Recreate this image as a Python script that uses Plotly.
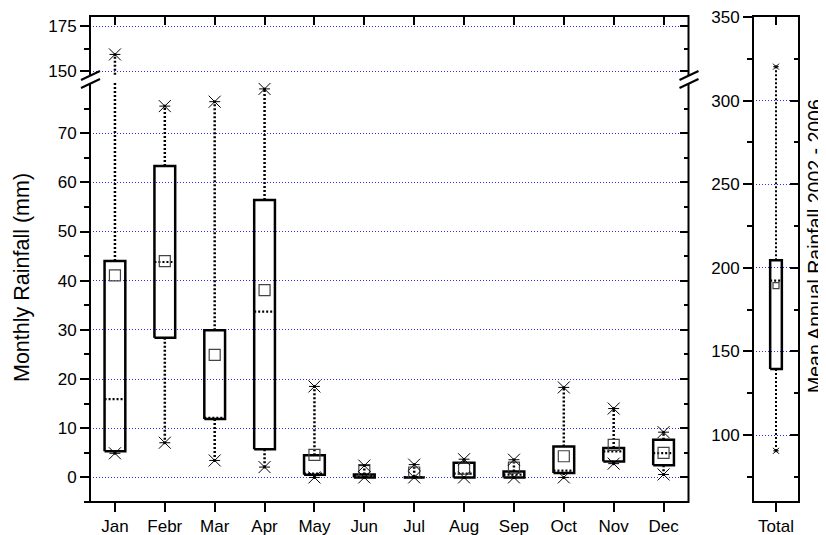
import plotly.graph_objects as go

# ---------------- data ----------------
months = ['Jan', 'Febr', 'Mar', 'Apr', 'May', 'Jun', 'Jul', 'Aug', 'Sep', 'Oct', 'Nov', 'Dec']
q1 = [5.3, 28.4, 11.9, 5.75, 0.55, 0.0, 0.0, 0.0, 0.0, 0.9, 3.25, 2.45]
q3 = [44.0, 63.3, 29.9, 56.4, 4.5, 0.6, 0.15, 3.0, 1.2, 6.3, 6.0, 7.65]
median = [15.9, 43.8, 12.1, 33.7, 0.8, 0.3, 0.05, 0.75, 0.55, 1.4, 5.3, 4.95]
mean = [41.1, 44.0, 24.9, 38.1, 4.6, 1.5, 1.0, 1.8, 2.0, 4.3, 6.6, 5.0]
vmin = [4.9, 7.05, 3.45, 2.1, 0.0, 0.0, 0.0, 0.0, 0.0, 0.0, 2.8, 0.6]
vmax = [159.4, 75.5, 76.4, 79.0, 18.5, 2.4, 2.6, 3.7, 3.6, 18.3, 14.0, 9.2]

total_label = ['Total']
total_q1 = [139.6]
total_q3 = [204.6]
total_median = [192.4]
total_mean = [189.4]
total_min = [90.6]
total_max = [320.3]

lower_ticks = [0, 10, 20, 30, 40, 50, 60, 70]
upper_ticks = [150, 175]
total_ticks = [100, 150, 200, 250, 300, 350]

# ---------------- layout helpers ----------------
OFF = 8                      # page body margin in the browser
W, H = 826 - OFF, 535 - OFF  # figure size
TOP, BOT = 16 - OFF, 502 - OFF
PH = BOT - TOP
FONT = 'Liberation Sans, Arial, sans-serif'


def px(x):
    """window pixel x -> paper fraction"""
    return (x - OFF) / W


def py(y):
    """window pixel y -> paper fraction"""
    return (BOT - (y - OFF)) / PH


def box_traces(pos, lo, hi, med, mn, vlo, vhi, w, xa, ya, msize, asize, wwidth):
    wx, wy, bx, by, mx, my = [], [], [], [], [], []
    for p, a, b, m, l, h in zip(pos, lo, hi, med, vlo, vhi):
        wx += [p, p, None, p, p, None]
        wy += [b, h, None, a, l, None]
        bx += [p - w, p + w, p + w, p - w, p - w, None]
        by += [a, a, b, b, a, None]
        mx += [p - w, p + w, None]
        my += [m, m, None]
    common = dict(xaxis=xa, yaxis=ya, hoverinfo='skip', showlegend=False)
    tr = [
        go.Scatter(x=wx, y=wy, mode='lines',
                   line=dict(color='black', width=wwidth, dash='2px,2px'), **common),
        go.Scatter(x=bx, y=by, mode='lines',
                   line=dict(color='black', width=2.5), **common),
        go.Scatter(x=mx, y=my, mode='lines',
                   line=dict(color='black', width=2.2, dash='2px,2px'), **common),
        go.Scatter(x=list(pos), y=mn, mode='markers',
                   marker=dict(symbol='square-open', size=msize, color='#444',
                               line=dict(width=1.2, color='#444')), **common),
    ]
    ex = list(pos) + list(pos)
    ey = list(vlo) + list(vhi)
    tr.append(go.Scatter(x=ex, y=ey, mode='markers',
                         marker=dict(symbol='x-thin-open', size=asize, color='black',
                                     line=dict(width=1, color='black')), **common))
    tr.append(go.Scatter(x=ex, y=ey, mode='markers',
                         marker=dict(symbol='line-ew-open', size=asize * 0.65, color='black',
                                     line=dict(width=1, color='black')), **common))
    tr.append(go.Scatter(x=ex, y=ey, mode='markers',
                         marker=dict(symbol='circle', size=3, color='black'), **common))
    return tr


fig = go.Figure()
pos = list(range(len(months)))
for ya in ['y', 'y2']:
    for t in box_traces(pos, q1, q3, median, mean, vmin, vmax, 0.208, 'x', ya, 11, 12, 2.5):
        fig.add_trace(t)
for t in box_traces([0], total_q1, total_q3, total_median, total_mean, total_min,
                    total_max, 0.127, 'x2', 'y3', 6, 6, 2):
    fig.add_trace(t)

# dummy traces so overlay axes are drawn
for xa, ya in [('x3', 'y2'), ('x', 'y4'), ('x', 'y5'), ('x4', 'y3'), ('x2', 'y6')]:
    fig.add_trace(go.Scatter(x=[None], y=[None], xaxis=xa, yaxis=ya, showlegend=False,
                             hoverinfo='skip'))

GRID = dict(showgrid=True, gridcolor='#2b2bff', gridwidth=1, griddash='1px,2px')
tickfont = dict(family=FONT, size=17, color='black')
NOAM = dict(automargin=False)

main_x_dom = [px(90), px(688.5)]
tot_x_dom = [px(753), px(799)]
low_dom = [0, py(83)]
up_dom = [py(75), 1]

fig.update_layout(
    width=W, height=H,
    margin=dict(l=0, r=0, t=TOP, b=H - BOT, autoexpand=False),
    paper_bgcolor='white', plot_bgcolor='white',
    font=dict(family=FONT, color='black'),
    xaxis=dict(domain=main_x_dom, anchor='y', range=[-0.5, 11.5],
               tickvals=pos, ticktext=months, ticks='outside', ticklen=9, tickwidth=2,
               tickcolor='black', showgrid=False, zeroline=False, showline=False,
               tickfont=tickfont, ticklabeloverflow='allow', **NOAM),
    xaxis3=dict(overlaying='x', anchor='y2', side='top', range=[-0.5, 11.5],
                tickvals=pos, ticks='inside', ticklen=9, tickwidth=2, tickcolor='black',
                showticklabels=False, showgrid=False, zeroline=False, showline=False, **NOAM),
    yaxis=dict(domain=low_dom, anchor='x', range=[-5, 80.2], tickvals=lower_ticks,
               ticks='outside', ticklen=9, tickwidth=2, tickcolor='black',
               minor=dict(tickvals=[-5, 5, 15, 25, 35, 45, 55, 65, 75], ticks='outside',
                          ticklen=5, tickwidth=1.5, tickcolor='black', showgrid=False),
               zeroline=False, showline=False, tickfont=tickfont,
               ticklabeloverflow='allow', **GRID, **NOAM),
    yaxis2=dict(domain=up_dom, anchor='x', range=[148, 180.7], tickvals=upper_ticks,
                ticks='outside', ticklen=9, tickwidth=2, tickcolor='black',
                minor=dict(tickvals=[162.5], ticks='outside', ticklen=5, tickwidth=1.5,
                           tickcolor='black', showgrid=False),
                zeroline=False, showline=False, tickfont=tickfont,
                ticklabeloverflow='allow', **GRID, **NOAM),
    yaxis4=dict(overlaying='y', anchor='x', side='right', range=[-5, 80.2],
                tickvals=lower_ticks, ticks='inside', ticklen=9, tickwidth=2,
                tickcolor='black', showticklabels=False, showgrid=False, zeroline=False,
                minor=dict(tickvals=[-5, 5, 15, 25, 35, 45, 55, 65, 75], ticks='inside',
                           ticklen=5, tickwidth=1.5, tickcolor='black', showgrid=False),
                showline=False, **NOAM),
    yaxis5=dict(overlaying='y2', anchor='x', side='right', range=[148, 180.7],
                tickvals=upper_ticks, ticks='inside', ticklen=9, tickwidth=2,
                tickcolor='black', showticklabels=False, showgrid=False, zeroline=False,
                minor=dict(tickvals=[162.5], ticks='inside', ticklen=5, tickwidth=1.5,
                           tickcolor='black', showgrid=False),
                showline=False, **NOAM),
    xaxis2=dict(domain=tot_x_dom, anchor='y3', range=[-0.5, 0.5], tickvals=[0],
                ticktext=total_label, ticks='outside', ticklen=9, tickwidth=2,
                tickcolor='black', showgrid=False, zeroline=False, showline=False,
                tickfont=tickfont, ticklabeloverflow='allow', **NOAM),
    xaxis4=dict(overlaying='x2', anchor='y3', side='top', range=[-0.5, 0.5], tickvals=[0],
                ticks='inside', ticklen=9, tickwidth=2, tickcolor='black',
                showticklabels=False, showgrid=False, zeroline=False, showline=False, **NOAM),
    yaxis3=dict(domain=[0, 1], anchor='x2', range=[60, 350.6], tickvals=total_ticks,
                ticks='outside', ticklen=9, tickwidth=2, tickcolor='black',
                minor=dict(tickvals=[75, 125, 175, 225, 275, 325], ticks='outside',
                           ticklen=5, tickwidth=1.5, tickcolor='black', showgrid=False),
                zeroline=False, showline=False, tickfont=tickfont,
                ticklabeloverflow='allow', **GRID, **NOAM),
    yaxis6=dict(overlaying='y3', anchor='x2', side='right', range=[60, 350.6],
                tickvals=total_ticks, ticks='inside', ticklen=9, tickwidth=2,
                tickcolor='black', showticklabels=False, showgrid=False, zeroline=False,
                minor=dict(tickvals=[75, 125, 175, 225, 275, 325], ticks='inside',
                           ticklen=5, tickwidth=1.5, tickcolor='black', showgrid=False),
                showline=False, **NOAM),
)

shapes = [
    dict(type='rect', xref='paper', yref='paper', x0=main_x_dom[0], x1=main_x_dom[1],
         y0=0, y1=1, line=dict(color='black', width=2)),
    dict(type='rect', xref='paper', yref='paper', x0=tot_x_dom[0], x1=tot_x_dom[1],
         y0=0, y1=1, line=dict(color='black', width=2)),
]
# axis-break marks
for cx in (90, 688.5):
    x0, x1 = cx - 9, cx + 10
    pts = [(x0, 80), (x1, 71), (x1, 79), (x0, 88)]
    path = 'M ' + ' L '.join(f'{px(a)},{py(b)}' for a, b in pts) + ' Z'
    shapes.append(dict(type='path', xref='paper', yref='paper', path=path,
                       fillcolor='white', line=dict(width=0)))
    for (a0, b0, a1, b1) in [(x0, 80, x1, 71), (x0, 88, x1, 79)]:
        shapes.append(dict(type='line', xref='paper', yref='paper', x0=px(a0), y0=py(b0),
                           x1=px(a1), y1=py(b1), line=dict(color='black', width=2)))
fig.update_layout(shapes=shapes)

fig.add_annotation(text='Monthly Rainfall (mm)', xref='paper', yref='paper',
                   x=px(22), y=py(278), xanchor='center', yanchor='middle',
                   textangle=-90, showarrow=False,
                   font=dict(family=FONT, size=21.5, color='black'))
fig.add_annotation(text='Mean Annual Rainfall 2002 - 2006', xref='paper', yref='paper',
                   x=px(815), y=py(246), xanchor='center', yanchor='middle',
                   textangle=-90, showarrow=False,
                   font=dict(family=FONT, size=19.5, color='black'))

fig.write_html('out.html')
